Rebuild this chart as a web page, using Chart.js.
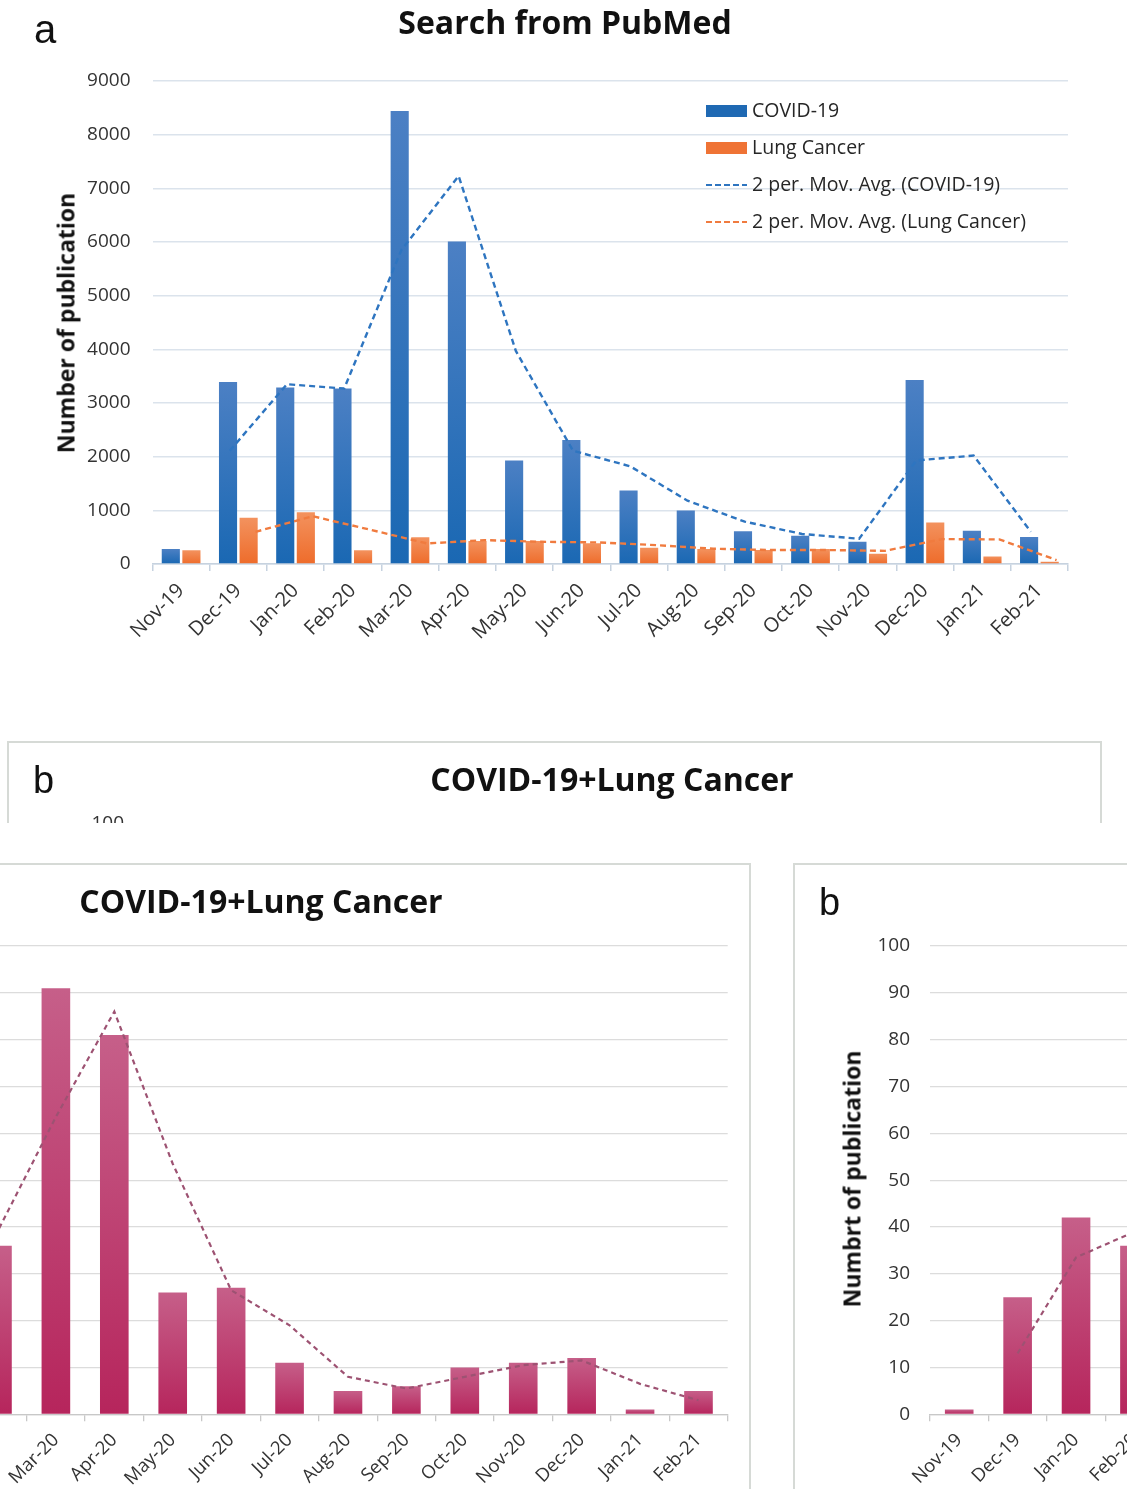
<!DOCTYPE html>
<html>
<head>
<meta charset="utf-8">
<script src="https://cdn.jsdelivr.net/npm/chart.js@4.4.1/dist/chart.umd.min.js"></script>
<style>
  body { margin: 0; background: #fff; width: 1127px; height: 1489px; position: relative; overflow: hidden; font-family: "Open Sans", sans-serif; color: #1a1a1a; }
  .abs { position: absolute; }
  .letter { position: absolute; font-family: "Liberation Sans", Arial, sans-serif; line-height: 1; color: #111; }
  .ytitle { position: absolute; font-weight: 700; font-size: 23px; line-height: 1; white-space: nowrap; color: #111;
            transform: translate(-50%, -50%) rotate(-90deg); }
  .crop { position: absolute; overflow: hidden; }
  .frame-b { position: absolute; top: 0; width: 1095px; height: 720px; background: #fff; box-shadow: inset 0 0 0 2px #d6dad6; }
  .frame-b canvas { position: absolute; left: 0; top: 0; }
  .title-b { position: absolute; left: 605px; top: 22px; transform: translateX(-50%); font-weight: 700; font-size: 32px; line-height: 32px; white-space: nowrap; color: #111; }
  .legend-row { position: absolute; left: 706px; height: 24px; font-size: 19.5px; line-height: 24px; color: #262626; white-space: nowrap; }
  .legend-row .mark { position: absolute; left: 0; width: 41px; }
  .legend-row span { position: absolute; left: 46px; top: -1px; }
</style>
</head>
<body>

<div id="panelA" class="abs" style="left:0;top:0;width:1127px;height:660px">
  <canvas id="chartA" width="1127" height="660"></canvas>
  <div class="letter" style="left:34px;top:9px;font-size:40px">a</div>
  <div class="abs" style="left:565px;top:6px;transform:translateX(-50%);font-weight:700;font-size:32px;line-height:32px;white-space:nowrap;color:#111">Search from PubMed</div>
  <div class="ytitle" style="left:66px;top:323px">Number of publication</div>
  <div id="legendA"></div>
</div>

<div id="cropTop" class="crop" style="left:7px;top:741px;width:1095px;height:82px"></div>
<div id="cropLeft" class="crop" style="left:0;top:863px;width:752px;height:626px"></div>
<div id="cropRight" class="crop" style="left:793px;top:863px;width:334px;height:626px"></div>

<script>
const months = ["Nov-19", "Dec-19", "Jan-20", "Feb-20", "Mar-20", "Apr-20", "May-20", "Jun-20",
                "Jul-20", "Aug-20", "Sep-20", "Oct-20", "Nov-20", "Dec-20", "Jan-21", "Feb-21"];

// panel a: PubMed search
const covidCounts = [280, 3390, 3290, 3270, 8440, 6010, 1930, 2310, 1370, 995, 612, 525, 414, 3430, 618, 501];
const lungCounts = [255, 860, 965, 255, 500, 428, 428, 385, 304, 279, 260, 279, 192, 775, 142, 43];
const covidMovAvg = [null, 2110, 3350, 3270, 5850, 7230, 3970, 2110, 1820, 1180, 790, 560, 470, 1930, 2020, 600];
const lungMovAvg = [null, 600, 890, 640, 383, 445, 414, 402, 352, 284, 260, 260, 245, 464, 458, 74];

// panel b: COVID-19+Lung Cancer
const comboCounts = [1, 25, 42, 36, 91, 81, 26, 27, 11, 5, 6, 10, 11, 12, 1, 5];
const comboMovAvg = [null, 13, 33.5, 39, 63.5, 86, 53.5, 26.5, 19, 8, 5.5, 8, 10.5, 11.5, 6.5, 3];

const legendItems = [
    { label: "COVID-19", color: "#1f69b3", kind: "bar" },
    { label: "Lung Cancer", color: "#ef7335", kind: "bar" },
    { label: "2 per. Mov. Avg. (COVID-19)", color: "#2e75c0", kind: "dash" },
    { label: "2 per. Mov. Avg. (Lung Cancer)", color: "#f07b3f", kind: "dash" }
];

Chart.defaults.font.family = "'Open Sans', sans-serif";
Chart.defaults.animation = false;

// excel puts the trendline points a bit off the category centre; nudge the drawn line by a
// fraction of one category (the points still come from the scales)
const trendShift = {
    id: "trendShift",
    beforeDatasetDraw(chart, args) {
        let shift = chart.data.datasets[args.index].shift;
        if (!shift) return;
        let x = chart.scales.x;
        chart.ctx.save();
        chart.ctx.translate(shift * x.width / x.ticks.length, 0);
    },
    afterDatasetDraw(chart, args) {
        if (chart.data.datasets[args.index].shift) chart.ctx.restore();
    }
};

function barGradient(top, bottom) {
    return ctx => {
        let chart = ctx.chart;
        if (ctx.type !== "data" || !chart.chartArea) return bottom;
        let y0 = chart.scales.y.getPixelForValue(ctx.parsed.y);
        let y1 = chart.scales.y.getPixelForValue(0);
        if (!isFinite(y0) || y1 - y0 < 1) return bottom;
        let g = chart.ctx.createLinearGradient(0, y0, 0, y1);
        g.addColorStop(0, top);
        g.addColorStop(1, bottom);
        return g;
    };
}

function avgLine(label, values, color, width, dash, shift) {
    return {
        type: "line",
        label: label,
        data: values,
        shift: shift,
        borderColor: color,
        borderWidth: width,
        borderDash: dash,
        pointRadius: 0,
        tension: 0,
        fill: false,
        spanGaps: false,
        order: 0
    };
}

function fixedSize(prop, size) {
    return scale => { scale[prop] = size; };
}

const plainNumber = value => String(value);

// ---------- panel a ----------
new Chart(document.getElementById("chartA"), {
    type: "bar",
    data: {
        labels: months,
        datasets: [
            { label: "COVID-19", data: covidCounts, backgroundColor: barGradient("#4c80c4", "#1a68b3"), order: 1 },
            { label: "Lung Cancer", data: lungCounts, backgroundColor: barGradient("#f3925e", "#ee6c2b"), order: 1 },
            avgLine("2 per. Mov. Avg. (COVID-19)", covidMovAvg, "#2e75c0", 2.4, [6, 4], -0.15),
            avgLine("2 per. Mov. Avg. (Lung Cancer)", lungMovAvg, "#f07b3f", 2.4, [6, 4], 0.3)
        ]
    },
    plugins: [trendShift],
    options: {
        responsive: false,
        layout: { padding: { top: 81, right: 59, bottom: 6, left: 0 }, autoPadding: false },
        datasets: { bar: { categoryPercentage: 0.72, barPercentage: 0.88 } },
        plugins: { legend: { display: false }, tooltip: { enabled: false } },
        scales: {
            x: {
                afterFit: fixedSize("height", 90),
                grid: { offset: true, drawOnChartArea: false, drawTicks: true, tickLength: 7, color: "#c6d2df", lineWidth: 1.5 },
                border: { display: true, color: "#c6d2df", width: 1.5 },
                ticks: { autoSkip: false, minRotation: 45, maxRotation: 45, padding: 8, color: "#333", font: { size: 20 } }
            },
            y: {
                min: 0, max: 9000,
                afterFit: fixedSize("width", 152.5),
                grid: { color: "#dbe3ec", lineWidth: 1.4, drawTicks: false },
                border: { display: false },
                ticks: { stepSize: 1000, padding: 22, color: "#333", font: { size: 19 }, callback: plainNumber }
            }
        }
    }
});

// html legend for panel a
let legendHtml = "";
legendItems.forEach((item, i) => {
    let mark = item.kind === "bar"
        ? `<div class="mark" style="top:6px;height:12px;background:${item.color}"></div>`
        : `<div class="mark" style="top:11px;height:2px;background:repeating-linear-gradient(to right, ${item.color} 0 6px, transparent 6px 9px)"></div>`;
    legendHtml += `<div class="legend-row" style="top:${99 + i * 37}px">${mark}<span>${item.label}</span></div>`;
});
document.getElementById("legendA").innerHTML = legendHtml;

// ---------- panel b (same chart shown in three crops) ----------
function comboConfig() {
    return {
        type: "bar",
        data: {
            labels: months,
            datasets: [
                { label: "COVID-19+Lung Cancer", data: comboCounts, backgroundColor: barGradient("#c65f89", "#b6255c"), order: 1 },
                avgLine("2 per. Mov. Avg.", comboMovAvg, "#9d5272", 2.2, [5, 4], 0)
            ]
        },
        options: {
            responsive: false,
            layout: { padding: { top: 83, right: 23.3, bottom: 48.7, left: 0 }, autoPadding: false },
            datasets: { bar: { categoryPercentage: 1, barPercentage: 0.49 } },
            plugins: { legend: { display: false }, tooltip: { enabled: false } },
            scales: {
                x: {
                    afterFit: fixedSize("height", 100),
                    grid: { offset: true, drawOnChartArea: false, drawTicks: true, tickLength: 7, color: "#c8c8c8", lineWidth: 1.3 },
                    border: { display: true, color: "#c8c8c8", width: 1.3 },
                    ticks: { autoSkip: false, minRotation: 45, maxRotation: 45, padding: 8, color: "#333", font: { size: 18.5 } }
                },
                y: {
                    min: 0, max: 100,
                    afterFit: fixedSize("width", 137),
                    grid: { color: "#dcdcdc", lineWidth: 1.2, drawTicks: false },
                    border: { display: false },
                    ticks: { stepSize: 10, padding: 20, color: "#333", font: { size: 19 }, callback: plainNumber }
                }
            }
        }
    };
}

function buildComboPanel(hostId, offsetX) {
    let frame = document.createElement("div");
    frame.className = "frame-b";
    frame.style.left = offsetX + "px";
    frame.innerHTML =
        '<canvas width="1095" height="700"></canvas>' +
        '<div class="letter" style="left:26px;top:20px;font-size:38px">b</div>' +
        '<div class="title-b">COVID-19+Lung Cancer</div>' +
        '<div class="ytitle" style="left:59px;top:316px">Numbrt of publication</div>';
    document.getElementById(hostId).appendChild(frame);
    new Chart(frame.querySelector("canvas"), comboConfig());
}

buildComboPanel("cropTop", 0);
buildComboPanel("cropLeft", -344);
buildComboPanel("cropRight", 0);
</script>
</body>
</html>
